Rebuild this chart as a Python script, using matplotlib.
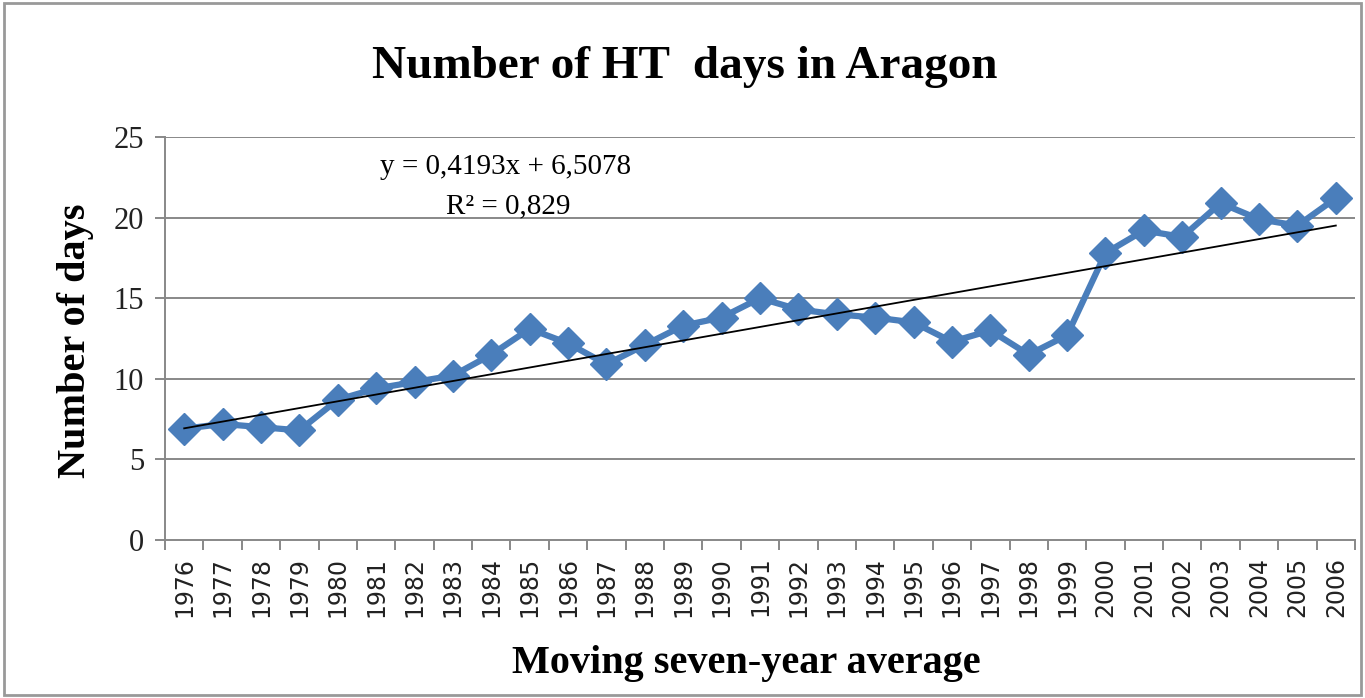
import matplotlib
matplotlib.use("Agg")
import matplotlib.pyplot as plt
import numpy as np
from matplotlib.patches import Rectangle

years = [str(y) for y in range(1976, 2007)]
days = [6.9, 7.2, 7.0, 6.8, 8.7, 9.4, 9.8, 10.2, 11.5, 13.1, 12.2, 10.9, 12.1, 13.3,
        13.8, 15.0, 14.3, 14.0, 13.8, 13.5, 12.3, 13.0, 11.5, 12.7, 17.8, 19.2, 18.8,
        20.9, 19.9, 19.5, 21.2]
slope, intercept = 0.4193, 6.5078
title = "Number of HT  days in Aragon"
xlabel = "Moving seven-year average"
ylabel = "Number of days"
eq_text = "y = 0,4193x + 6,5078"
r2_text = "R² = 0,829"
yticks = [0, 5, 10, 15, 20, 25]

fig = plt.figure(figsize=(13.65, 6.98), dpi=100)
ax = fig.add_axes([165/1365, 1-540/698, (1355-165)/1365, (540-137)/698])

x = np.arange(len(years))
grid_c = "#888888"
for t in yticks[1:]:
    ax.axhline(t, color=grid_c, lw=1.4, zorder=1)
ax.plot(x, days, color="#4a7ebb", lw=4.5, marker="D", ms=16, zorder=3)
xi = np.arange(1, len(years) + 1)
ax.plot(x, slope * xi + intercept, color="black", lw=1.3, zorder=4)

ax.set_xlim(-0.5, len(years) - 0.5)
ax.set_ylim(0, 25)
ax.set_yticks(yticks)
ax.set_yticklabels([str(t) for t in yticks], fontfamily="Liberation Serif", fontsize=22, color="#222222")
ax.set_xticks(x)
ax.set_xticklabels(years, rotation=90, fontfamily="DejaVu Sans", fontsize=17, color="#222222")
ax.set_xticks(np.arange(-0.5, len(years)), minor=True)
ax.tick_params(axis="x", which="major", length=0, pad=12)
ax.tick_params(axis="x", which="minor", length=7, color=grid_c, width=1.4)
ax.tick_params(axis="y", length=7, color=grid_c, width=1.4, pad=8)
for s in ["top", "right"]:
    ax.spines[s].set_visible(False)
for s in ["left", "bottom"]:
    ax.spines[s].set_color(grid_c)
    ax.spines[s].set_linewidth(1.4)

fig.text(685/1365, 1-67/698, title, ha="center", va="center", fontfamily="Liberation Serif",
         fontweight="bold", fontsize=34)
fig.text(746/1365, 1-664/698, xlabel, ha="center", va="center", fontfamily="Liberation Serif",
         fontweight="bold", fontsize=29)
fig.text(76/1365, 1-341/698, ylabel, ha="center", va="center", rotation=90,
         fontfamily="Liberation Serif", fontweight="bold", fontsize=29)
fig.text(506/1365, 1-167/698, eq_text, ha="center", va="center", fontfamily="Liberation Serif", fontsize=21)
fig.text(508/1365, 1-206/698, r2_text, ha="center", va="center", fontfamily="Liberation Serif", fontsize=21)

fig.patches.append(Rectangle((0.003, 0.004), 0.994, 0.992, transform=fig.transFigure,
                             fill=False, edgecolor="#999999", lw=2))
fig.savefig("out.png", dpi=100)
